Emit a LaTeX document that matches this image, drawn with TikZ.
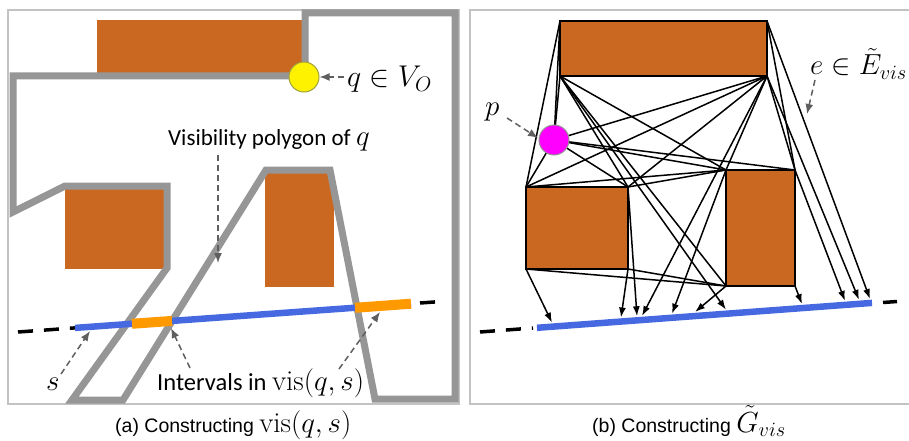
\RequirePackage{fix-cm}
\documentclass[tikz,border=0pt]{standalone}
\usepackage{fontspec}
\usetikzlibrary{arrows.meta}
\newfontfamily\labfont{Carlito}
\newfontfamily\capfont{Liberation Sans}
\newcommand\mathszA{\fontsize{29}{32}\selectfont}
\newcommand\mathszB{\fontsize{30}{34}\selectfont}
\newcommand\mathszC{\fontsize{29}{32}\selectfont}
\definecolor{obst}{RGB}{202,104,34}
\definecolor{wallgray}{RGB}{150,150,150}
\definecolor{framegray}{RGB}{195,195,195}
\definecolor{segblue}{RGB}{70,105,225}
\definecolor{intorange}{RGB}{255,153,0}
\definecolor{arrgray}{RGB}{95,95,95}
\begin{document}
\begin{tikzpicture}[x=1pt,y=-1pt,
  frame/.style={draw=framegray,line width=2pt},
  wall/.style={draw=wallgray,line width=7pt,line join=miter},
  segdash/.style={draw=black,line width=3.5pt,dash pattern=on 15pt off 11pt},
  segline/.style={draw=segblue,line width=6.5pt},
  interval/.style={draw=intorange,line width=10pt},
  labarrow/.style={draw=arrgray,line width=1.5pt,dash pattern=on 6pt off 4pt,-{Latex[length=10pt,width=8pt]}},
  edge/.style={draw=black,line width=1.5pt},
  segarrow/.style={draw=black,line width=1.5pt,-{Latex[length=10pt,width=7pt]}},
  obstbox/.style={draw=black,line width=1.6pt,fill=obst,inner sep=0pt,outer sep=0pt},
  lab/.style={anchor=base west,inner sep=0pt}]
\useasboundingbox (0,0) rectangle (909,441);
\fill[white] (0,0) rectangle (909,441);

% frames
\draw[frame] (8,10) rectangle (459,404);
\draw[frame] (470,10) rectangle (925,404);

% ---------------- panel (a) ----------------
\fill[obst] (97,20) rectangle (305,76);
\fill[obst] (65,189) rectangle (167,269);
\fill[obst] (265,172) rectangle (334,287);
\draw[wall] (305,13) -- (455,13) -- (455,399) -- (375,399) -- (330,170) -- (266,170)
  -- (123,400) -- (72,400) -- (167,268) -- (167,186) -- (65,186) -- (13,212)
  -- (13,76) -- (305,76) -- cycle;

\draw[segdash] (18,332) -- (75,327.9);
\draw[segdash] (420,303.0) -- (437,301.8);
\draw[segline] (75,327.9) -- (411,303.7);
\draw[interval] (132,323.8) -- (172,320.9);
\draw[interval] (355,307.8) -- (411,303.7);

\node[circle,minimum size=30pt,inner sep=0pt,fill=yellow,draw={rgb,255:red,160;green,160;blue,60},line width=1pt] (q) at (304,77) {};

\node[lab] (qlab) at (347,87) {\mathszB $q\in V_O$};
\coordinate (qarr) at (344,77);
\draw[labarrow] (qarr) -- (q.east);

\node[lab] (vislab) at (168,145) {\labfont\fontsize{23}{26}\selectfont Visibility polygon of\ {\mathszA $q$}};
\coordinate (visA) at (218,155);
\coordinate (visB) at (218,263);
\draw[labarrow] (visA) -- (visB);

\node[lab] (slab) at (46,390) {\mathszA $s$};
\coordinate (sA) at (61,374);
\coordinate (sB) at (90,331);
\draw[labarrow] (sA) -- (sB);

\node[lab] (intlab) at (157,390) {\labfont\fontsize{24.5}{27}\selectfont Intervals in {\mathszA $\mathrm{vis}(q,s)$}};
\coordinate (iA) at (190,368);
\coordinate (iB) at (171,328);
\coordinate (iC) at (339,369);
\coordinate (iD) at (380,312);
\draw[labarrow] (iA) -- (iB);
\draw[labarrow] (iC) -- (iD);

\node[lab] (capa) at (115,432) {\capfont\fontsize{19.5}{22}\selectfont (a) Constructing {\mathszA $\mathrm{vis}(q,s)$}};

% ---------------- panel (b) ----------------
\node[obstbox,minimum width=207pt,minimum height=55pt] (R1) at (663.5,48.5) {};
\node[obstbox,minimum width=102pt,minimum height=82pt] (R2) at (577,228) {};
\node[obstbox,minimum width=69pt,minimum height=116pt] (R3) at (760.5,228) {};

\coordinate (A) at (R1.north west);
\coordinate (B) at (R1.north east);
\coordinate (C) at (R1.south west);
\coordinate (D) at (R1.south east);
\coordinate (E) at (R2.north west);
\coordinate (F) at (R2.north east);
\coordinate (G) at (R2.south west);
\coordinate (H) at (R2.south east);
\coordinate (I) at (R3.north west);
\coordinate (J) at (R3.north east);
\coordinate (K) at (R3.south west);
\coordinate (L) at (R3.south east);
\coordinate (Pc) at (554,140);

\draw[segdash] (480,332) -- (533,328);
\draw[segdash] (883,302.5) -- (897,301.5);
\draw[segline] (537,327.8) -- (872,302.9);

% visibility edges
\foreach \u/\v in {A/E,A/Pc,C/Pc,C/F,C/I,C/K,D/Pc,D/E,D/F,D/I,D/J,B/J,
                   Pc/I,Pc/J,Pc/F,E/I,E/Pc,F/I,G/K,H/K}
  \draw[edge] (\u) -- (\v);

% edges to the segment
\coordinate (t1) at (552,322.6);
\coordinate (t2) at (621,317.5);
\coordinate (t3) at (637,316.3);
\coordinate (t4) at (642,316.0);
\coordinate (t5) at (672,313.7);
\coordinate (t6) at (695,312.0);
\coordinate (t7) at (726,309.7);
\coordinate (t8) at (802,304.1);
\coordinate (t9) at (845,300.9);
\coordinate (t10) at (859,299.8);
\coordinate (t11) at (870,299.0);
\foreach \u/\v in {G/t1,H/t2,F/t3,D/t4,I/t5,K/t6,C/t7,L/t8,J/t9,D/t10,B/t11}
  \draw[segarrow] (\u) -- (\v);

\node[circle,minimum size=30pt,inner sep=0pt,fill={rgb,255:red,255;green,0;blue,255},draw={rgb,255:red,150;green,150;blue,150},line width=1pt] (P) at (Pc) {};

\node[lab] (plab) at (485,115) {\mathszA $p$};
\coordinate (pA) at (507,118);
\coordinate (pB) at (538,138);
\draw[labarrow] (pA) -- (pB);

\node[lab] (elab) at (810,75) {\mathszC $e\in\tilde E_{vis}$};
\coordinate (eA) at (815,80);
\coordinate (eB) at (807,114);
\draw[labarrow] (eA) -- (eB);

\node[lab] (capb) at (592,432) {\capfont\fontsize{19.5}{22}\selectfont (b) Constructing {\mathszA $\tilde G_{vis}$}};
\end{tikzpicture}
\end{document}
